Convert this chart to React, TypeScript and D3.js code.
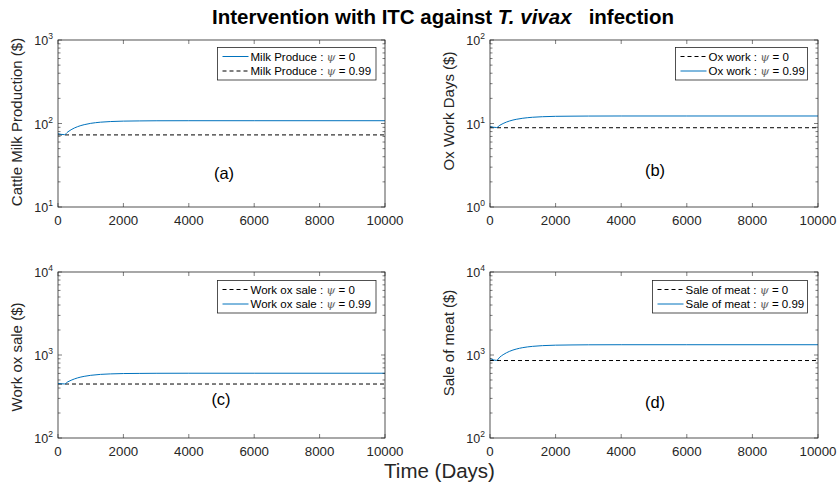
import React from "react";
import * as d3 from "d3";

// ---- Data ----
const times = [0, 200, 300, 400, 600, 800, 1000, 1300, 1600, 2000, 2500, 3000, 4000, 6000, 10000];
const xTicks = [0, 2000, 4000, 6000, 8000, 10000];

const milkBlue = [75.5, 73.5, 79.3, 84.2, 91.7, 96.8, 100.4, 103.7, 105.5, 106.8, 107.4, 107.8, 108, 108, 108];
const milkDashed = [73, 73, 73, 73, 73, 73, 73, 73, 73, 73, 73, 73, 73, 73, 73];

const oxWorkBlue = [9.2, 8.95, 9.53, 10.0, 10.73, 11.22, 11.56, 11.88, 12.06, 12.19, 12.24, 12.28, 12.3, 12.3, 12.3];
const oxWorkDashed = [8.9, 8.9, 8.9, 8.9, 8.9, 8.9, 8.9, 8.9, 8.9, 8.9, 8.9, 8.9, 8.9, 8.9, 8.9];

const oxSaleBlue = [455, 448, 475, 496, 530, 553, 569, 584, 592, 598, 600, 602, 603, 603, 603];
const oxSaleDashed = [447, 447, 447, 447, 447, 447, 447, 447, 447, 447, 447, 447, 447, 447, 447];

const meatBlue = [905, 862, 943, 1008, 1109, 1179, 1227, 1271, 1297, 1314, 1322, 1327, 1330, 1330, 1330];
const meatDashed = [858, 858, 858, 858, 858, 858, 858, 858, 858, 858, 858, 858, 858, 858, 858];

const BLUE = "#0072BD";
const AX = "#262626";
const FONT = "'Liberation Sans', Arial, Helvetica, sans-serif";

type Leg = { label: string; psi: string; blue: boolean };
type Panel = {
  left: number; right: number; top: number; bottom: number;
  yDomain: [number, number];
  blue: number[]; dashed: number[];
  ylabel: string; ylabelY: number; ylabelX: number;
  tag: string; tagX: number; tagY: number;
  legend: Leg[]; legX: number; legY: number; legW: number;
};

const panels: Panel[] = [
  {
    left: 58, right: 385, top: 40, bottom: 207, yDomain: [10, 1000],
    blue: milkBlue, dashed: milkDashed,
    ylabel: "Cattle Milk Production ($)", ylabelX: 22, ylabelY: 122,
    tag: "(a)", tagX: 224, tagY: 178.5,
    legend: [
      { label: "Milk Produce : ", psi: "0", blue: true },
      { label: "Milk Produce : ", psi: "0.99", blue: false },
    ],
    legX: 217.5, legY: 47.5, legW: 158.5,
  },
  {
    left: 490, right: 818, top: 40, bottom: 207, yDomain: [1, 100],
    blue: oxWorkBlue, dashed: oxWorkDashed,
    ylabel: "Ox Work Days ($)", ylabelX: 454, ylabelY: 111,
    tag: "(b)", tagX: 655, tagY: 175.5,
    legend: [
      { label: "Ox work : ", psi: "0", blue: false },
      { label: "Ox work : ", psi: "0.99", blue: true },
    ],
    legX: 675.5, legY: 47.5, legW: 132,
  },
  {
    left: 58, right: 385, top: 272, bottom: 438, yDomain: [100, 10000],
    blue: oxSaleBlue, dashed: oxSaleDashed,
    ylabel: "Work ox sale ($)", ylabelX: 22, ylabelY: 357,
    tag: "(c)", tagX: 221, tagY: 404.5,
    legend: [
      { label: "Work ox sale : ", psi: "0", blue: false },
      { label: "Work ox sale : ", psi: "0.99", blue: true },
    ],
    legX: 217.5, legY: 280.5, legW: 158.5,
  },
  {
    left: 490, right: 818, top: 272, bottom: 438, yDomain: [100, 10000],
    blue: meatBlue, dashed: meatDashed,
    ylabel: "Sale of meat ($)", ylabelX: 454, ylabelY: 343,
    tag: "(d)", tagX: 655, tagY: 407.5,
    legend: [
      { label: "Sale of meat : ", psi: "0", blue: false },
      { label: "Sale of meat : ", psi: "0.99", blue: true },
    ],
    legX: 652.5, legY: 280.5, legW: 155,
  },
];

function PanelView({ p }: { p: Panel }) {
  const x = d3.scaleLinear().domain([0, 10000]).range([p.left, p.right]);
  const y = d3.scaleLog().domain(p.yDomain).range([p.bottom, p.top]);
  const line = d3
    .line<number>()
    .x((_, i) => x(times[i]))
    .y((v) => y(v))
    .curve(d3.curveMonotoneX);
  const yt = y.ticks();
  const isMajor = (v: number) => Math.abs(Math.log10(v) - Math.round(Math.log10(v))) < 1e-9;
  const T = 4;
  const legH = 32.5;
  return (
    <g>
      <rect x={p.left} y={p.top} width={p.right - p.left} height={p.bottom - p.top} fill="white" />
      <path d={line(p.dashed) || ""} fill="none" stroke="#000" strokeWidth={1} strokeDasharray="4,3" />
      <path d={line(p.blue) || ""} fill="none" stroke={BLUE} strokeWidth={1} />
      {xTicks.map((t) => (
        <g key={"x" + t}>
          <line x1={x(t)} x2={x(t)} y1={p.bottom} y2={p.bottom - T} stroke={AX} strokeWidth={0.6} />
          <line x1={x(t)} x2={x(t)} y1={p.top} y2={p.top + T} stroke={AX} strokeWidth={0.6} />
          <text x={x(t)} y={p.bottom + 18} textAnchor="middle" fontSize={13.3} fill={AX} fontFamily={FONT}>
            {t}
          </text>
        </g>
      ))}
      {yt.map((v, i) => {
        const maj = isMajor(v);
        const len = maj ? T : 2.5;
        return (
          <g key={"y" + i}>
            <line x1={p.left} x2={p.left + len} y1={y(v)} y2={y(v)} stroke={AX} strokeWidth={0.6} />
            <line x1={p.right} x2={p.right - len} y1={y(v)} y2={y(v)} stroke={AX} strokeWidth={0.6} />
            {maj && (
              <text x={p.left - 5} y={y(v) + 5} textAnchor="end" fontSize={12.5} fill={AX} fontFamily={FONT}>
                10
                <tspan fontSize={8.5} dy={-6}>{Math.round(Math.log10(v))}</tspan>
              </text>
            )}
          </g>
        );
      })}
      <rect x={p.left} y={p.top} width={p.right - p.left} height={p.bottom - p.top} fill="none" stroke={AX} strokeWidth={0.8} />
      <text
        transform={`translate(${p.ylabelX},${p.ylabelY}) rotate(-90)`}
        textAnchor="middle"
        fontSize={15}
        fill={AX}
        fontFamily={FONT}
      >
        {p.ylabel}
      </text>
      <text x={p.tagX} y={p.tagY} textAnchor="middle" fontSize={16.5} fill="#000" fontFamily={FONT}>
        {p.tag}
      </text>
      <rect x={p.legX} y={p.legY} width={p.legW} height={legH} fill="white" stroke={AX} strokeWidth={0.8} />
      {p.legend.map((l, i) => {
        const ly = p.legY + 9 + i * 14.5;
        return (
          <g key={"l" + i}>
            <line
              x1={p.legX + 5}
              x2={p.legX + 31}
              y1={ly}
              y2={ly}
              stroke={l.blue ? BLUE : "#000"}
              strokeWidth={1}
              strokeDasharray={l.blue ? undefined : "4,3"}
            />
            <text x={p.legX + 33} y={ly + 4} fontSize={11.5} fill="#000" fontFamily={FONT}>
              {l.label}
              <tspan fontFamily="'DejaVu Serif', serif" fontStyle="italic" fill="#666">ψ</tspan>
              {" = " + l.psi}
            </text>
          </g>
        );
      })}
    </g>
  );
}

export default function App() {
  return (
    <svg width={838} height={489} style={{ position: "absolute", left: 0, top: 0, background: "white" }}>
      <rect width={838} height={489} fill="white" />
      <text x={443} y={24} textAnchor="middle" fontSize={20.5} fontWeight="bold" fill="#000" fontFamily={FONT}>
        {"Intervention with ITC against "}
        <tspan fontStyle="italic">T. vivax</tspan>
        {"\u00a0\u00a0\u00a0infection"}
      </text>
      {panels.map((p, i) => (
        <PanelView key={i} p={p} />
      ))}
      <text x={439.5} y={478} textAnchor="middle" fontSize={20.5} fill={AX} fontFamily={FONT}>
        Time (Days)
      </text>
    </svg>
  );
}
